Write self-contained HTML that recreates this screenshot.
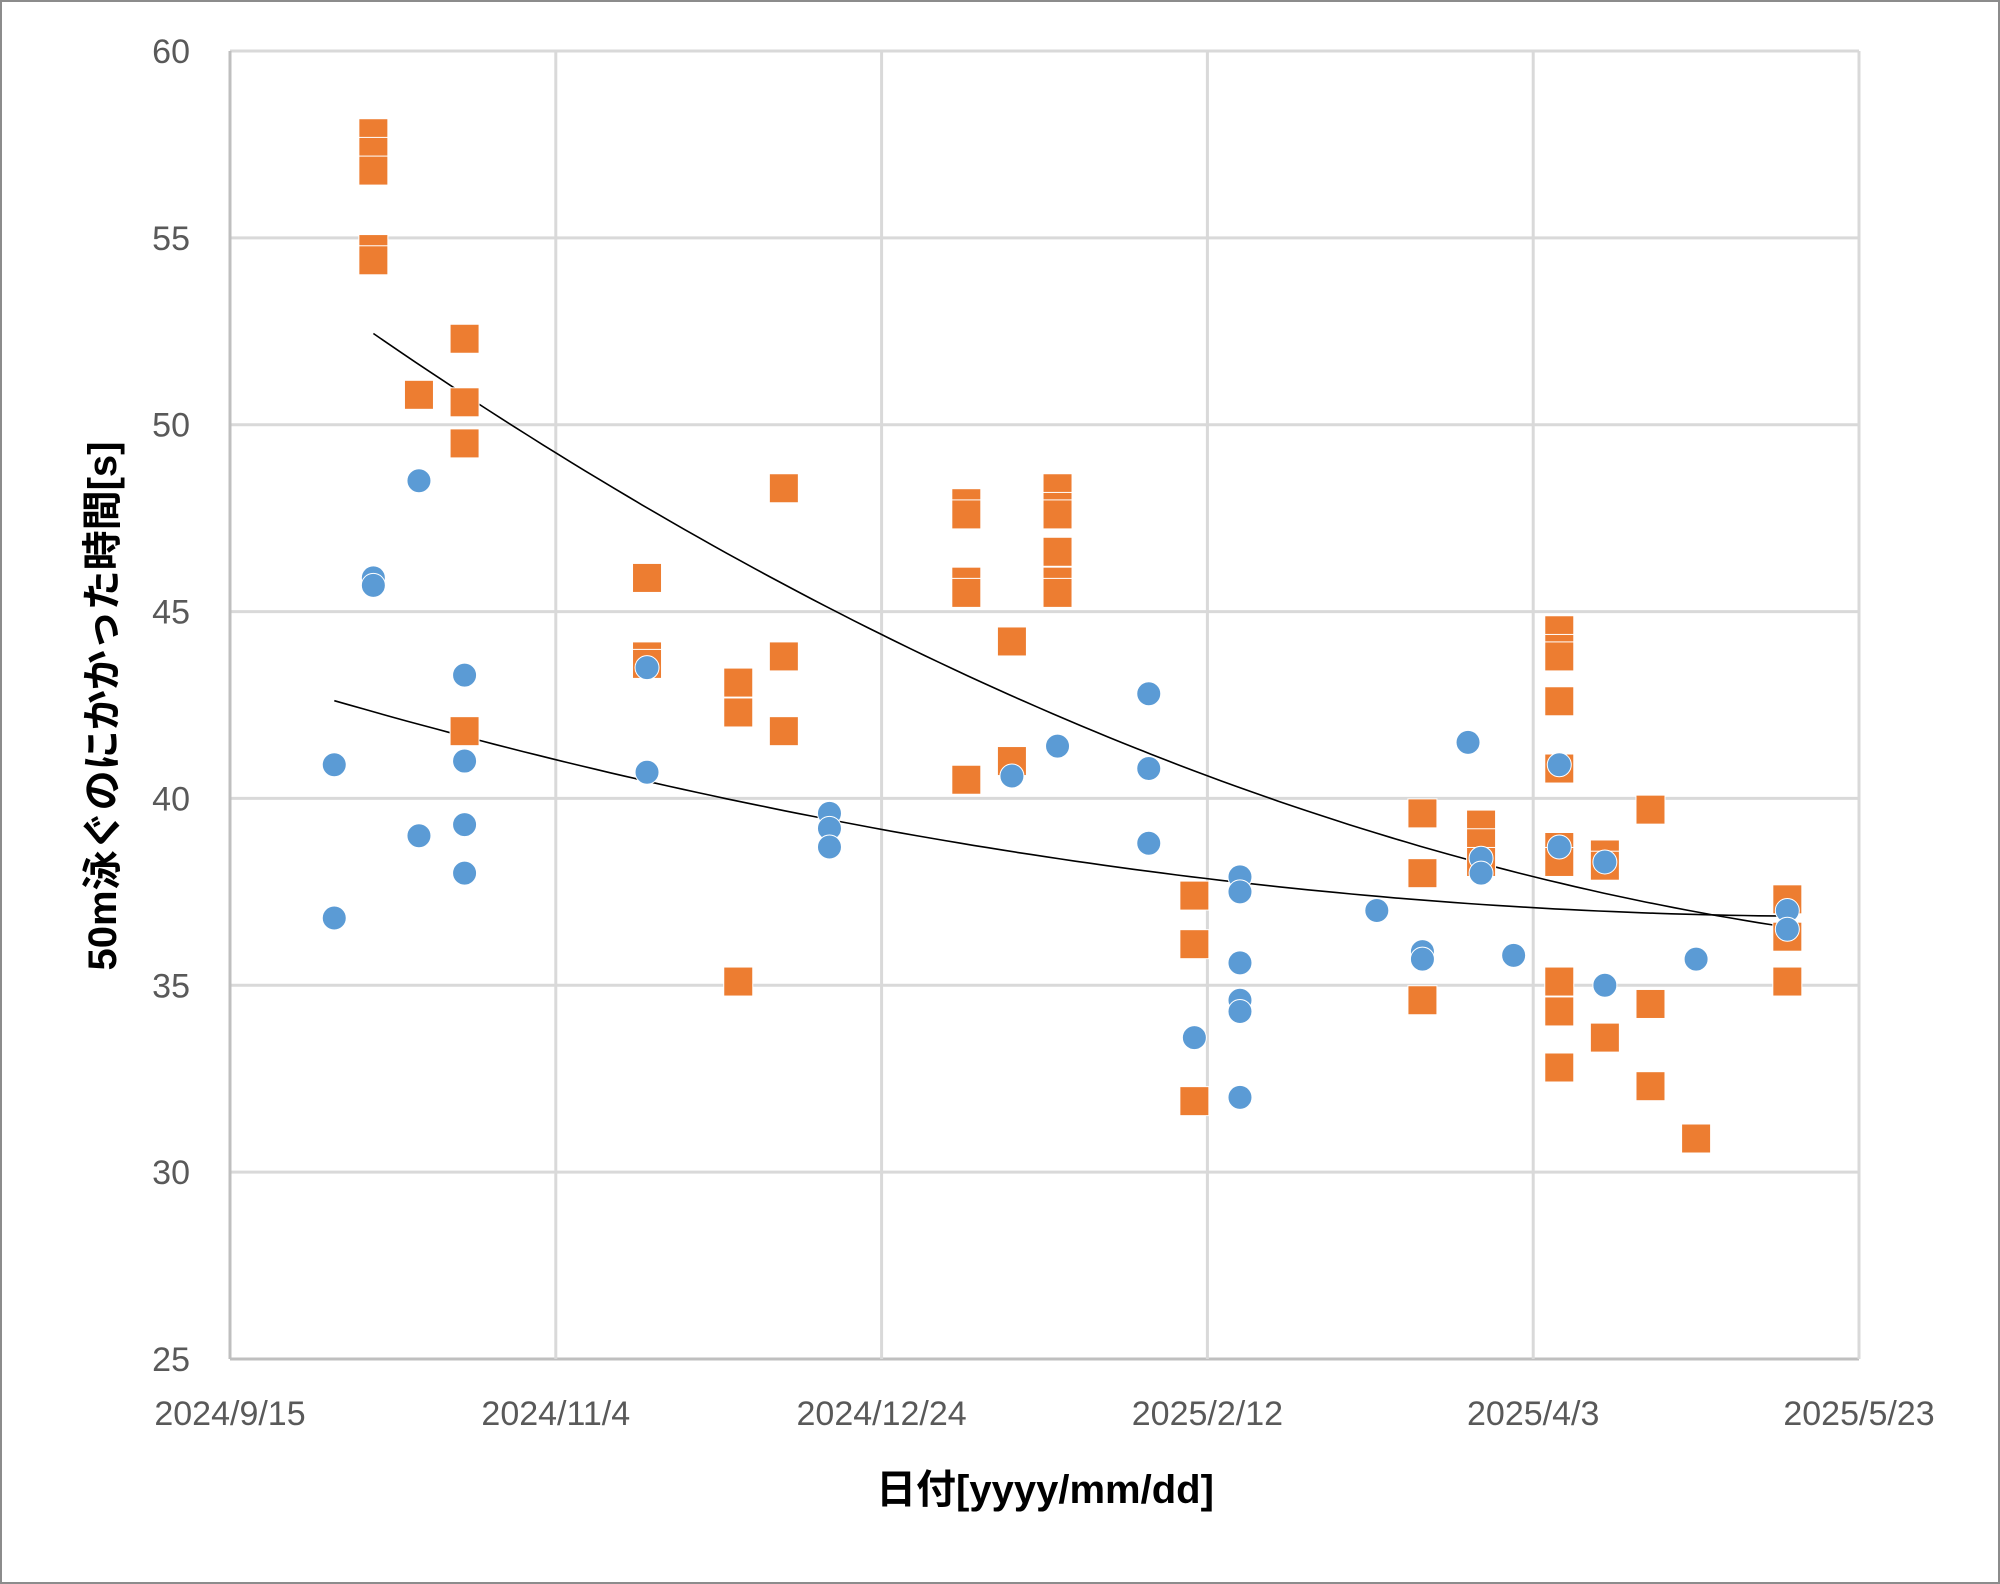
<!DOCTYPE html>
<html><head><meta charset="utf-8"><style>
html,body{margin:0;padding:0;background:#fff;}
svg{display:block;}
</style></head><body>
<svg id="chart" width="2000" height="1584" viewBox="0 0 2000 1584" xmlns="http://www.w3.org/2000/svg" font-family="'Liberation Sans','Noto Sans CJK JP',sans-serif">
<rect x="1" y="1" width="1998" height="1582" fill="#fff" stroke="#8c8c8c" stroke-width="2"/>
<g id="grid"></g>
<g id="axes"></g>
<g id="trend"></g>
<g id="marks"></g>
<text x="1045" y="1503" text-anchor="middle" font-size="40" font-weight="bold" fill="#000">日付[yyyy/mm/dd]</text>
<text transform="translate(116,706) rotate(-90)" text-anchor="middle" font-size="40" font-weight="bold" fill="#000">50m泳ぐのにかかった時間[s]</text>
</svg>
<script>
// day offsets from 2024/9/15
const blueDays = [16,16,22,22,29,29,36,36,36,36,64,64,92,92,92,120,127,141,141,141,148,155,155,155,155,155,155,176,183,183,190,192,192,197,204,204,211,211,225,239,239];
const blueVals = [40.9,36.8,45.9,45.7,48.5,39.0,43.3,41.0,39.3,38.0,43.5,40.7,39.6,39.2,38.7,40.6,41.4,42.8,40.8,38.8,33.6,37.9,37.5,35.6,34.6,34.3,32.0,37.0,35.9,35.7,41.5,38.4,38.0,35.8,40.9,38.7,35.0,38.3,35.7,37.0,36.5];
const orangeDays = [22,22,22,22,22,29,36,36,36,36,64,64,64,78,78,78,85,85,85,113,113,113,113,113,120,120,127,127,127,127,127,127,148,148,148,183,183,183,192,192,192,204,204,204,204,204,204,204,204,204,204,211,211,211,218,218,218,225,239,239,239];
const orangeVals = [57.8,57.3,56.8,54.7,54.4,50.8,52.3,50.6,49.5,41.8,45.9,43.8,43.6,43.1,42.3,35.1,48.3,43.8,41.8,47.9,47.6,45.8,45.5,40.5,44.2,41.0,48.3,47.8,47.6,46.6,45.8,45.5,37.4,36.1,31.9,39.6,38.0,34.6,39.3,38.8,38.3,44.5,44.0,43.8,42.6,40.8,38.7,38.3,35.1,34.3,32.8,38.5,38.2,33.6,39.7,34.5,32.3,30.9,37.3,36.3,35.1];
const yTicks = [25,30,35,40,45,50,55,60];
const xTickDays = [0,50,100,150,200,250];
const xTickLabels = ["2024/9/15","2024/11/4","2024/12/24","2025/2/12","2025/4/3","2025/5/23"];

const NS="http://www.w3.org/2000/svg";
const L=230,R=1859,T=51,B=1359;
const xs=d=>L+d*(R-L)/250;
const ys=v=>T+(60-v)*(B-T)/35;
function mk(tag,attrs,parent){const e=document.createElementNS(NS,tag);for(const k in attrs)e.setAttribute(k,attrs[k]);parent.appendChild(e);return e;}
const grid=document.getElementById('grid'),axes=document.getElementById('axes'),marks=document.getElementById('marks'),trend=document.getElementById('trend');
yTicks.forEach(v=>{
  const ln=mk('line',{x1:L,x2:R,y1:ys(v),y2:ys(v),stroke:v===25?'#bfbfbf':'#d9d9d9','stroke-width':3},grid);
  
  
  const t=mk('text',{x:190,y:ys(v)+12,'text-anchor':'end','font-size':34,fill:'#595959'},axes);
  t.textContent=v;
  
  
});
xTickDays.forEach((d,i)=>{
  const ln=mk('line',{x1:xs(d),x2:xs(d),y1:T,y2:B,stroke:(i===0)?'#bfbfbf':'#d9d9d9','stroke-width':3},grid);
  
  
  const t=mk('text',{x:xs(d),y:1425,'text-anchor':'middle','font-size':34,fill:'#595959'},axes);
  t.textContent=xTickLabels[i];
  
  
});
function fit(xv,yv){
  let S=[0,0,0,0,0],Q=[0,0,0];
  for(let i=0;i<xv.length;i++){const x=xv[i],y=yv[i];let p=1;for(let k=0;k<5;k++){S[k]+=p;if(k<3)Q[k]+=p*y;p*=x;}}
  const A=[[S[0],S[1],S[2],Q[0]],[S[1],S[2],S[3],Q[1]],[S[2],S[3],S[4],Q[2]]];
  for(let i=0;i<3;i++){for(let j=i+1;j<3;j++){const f=A[j][i]/A[i][i];for(let k=i;k<4;k++)A[j][k]-=f*A[i][k];}}
  const c=[0,0,0];for(let i=2;i>=0;i--){let s=A[i][3];for(let k=i+1;k<3;k++)s-=A[i][k]*c[k];c[i]=s/A[i][i];}
  return c;
}
function trendLine(xv,yv,name){
  const c=fit(xv,yv),x0=Math.min(...xv),x1=Math.max(...xv);let pts=[];
  for(let k=0;k<=100;k++){const d=x0+(x1-x0)*k/100;pts.push(xs(d).toFixed(1)+','+ys(c[0]+c[1]*d+c[2]*d*d).toFixed(1));}
  const p=mk('polyline',{points:pts.join(' '),fill:'none',stroke:'#000','stroke-width':1.6},trend);
  
  
}
orangeDays.forEach((d,i)=>{
  const r=mk('rect',{x:xs(d)-14.5,y:ys(orangeVals[i])-14.5,width:29,height:29,fill:'#ED7D31',stroke:'#fff','stroke-width':1},marks);
  
  
});
blueDays.forEach((d,i)=>{
  const c=mk('circle',{cx:xs(d),cy:ys(blueVals[i]),r:12,fill:'#5B9BD5',stroke:'#fff','stroke-width':1},marks);
  
  
});
trendLine(orangeDays,orangeVals,'orange-trendline');
trendLine(blueDays,blueVals,'blue-trendline');
</script>
</body></html>
